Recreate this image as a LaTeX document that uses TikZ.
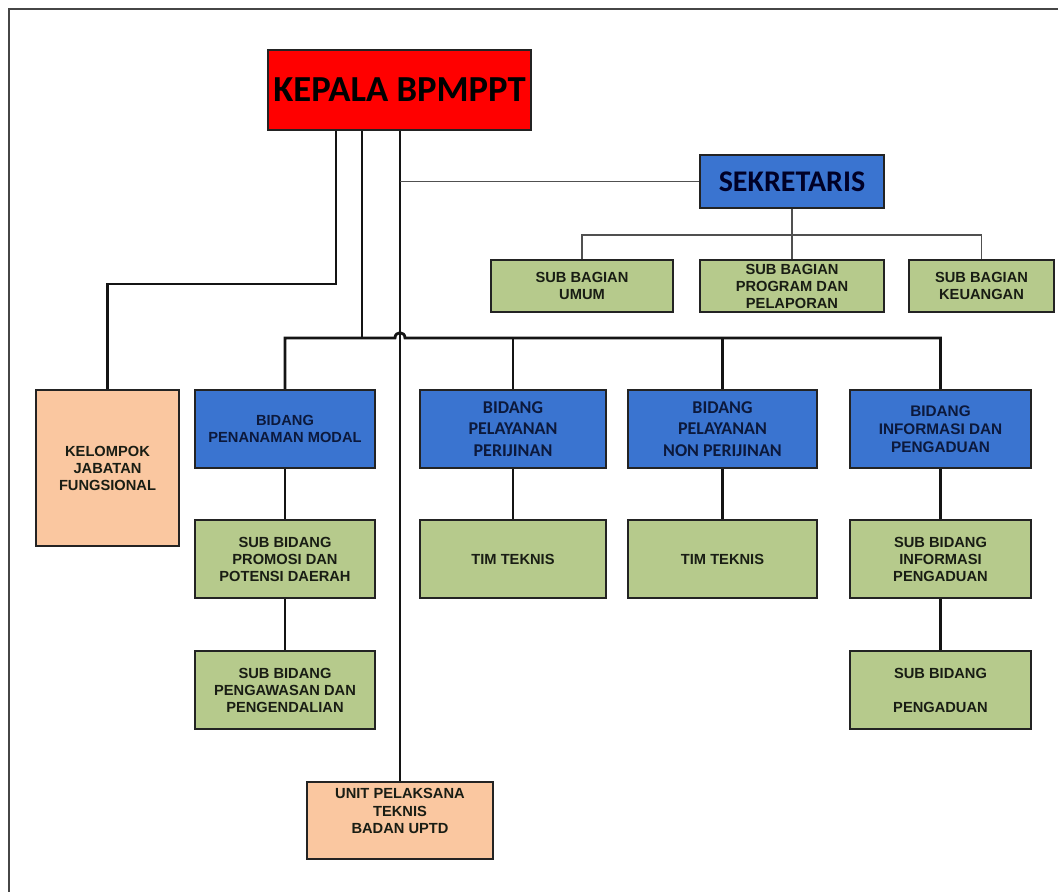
\documentclass[tikz,border=0pt]{standalone}
\usepackage{fontspec}
\setmainfont{Liberation Sans}
\newfontfamily\calfont{Carlito}
\definecolor{kred}{RGB}{255,0,0}
\definecolor{kblue}{RGB}{58,116,208}
\definecolor{kgreen}{RGB}{182,202,140}
\definecolor{kpeach}{RGB}{250,199,160}
\definecolor{bline}{RGB}{35,35,35}
\definecolor{cline}{RGB}{20,20,20}
\definecolor{sline}{RGB}{80,80,80}
\definecolor{ktext}{RGB}{25,29,20}
\definecolor{btext}{RGB}{12,25,60}
\definecolor{frame}{RGB}{70,70,70}
\begin{document}
\begin{tikzpicture}[x=0.75pt,y=-0.75pt,
  box/.style={draw=bline, line width=1.6pt, inner sep=0pt, align=center,
    font=\fontsize{11}{12.75}\selectfont\bfseries},
  gbox/.style={box, fill=kgreen, text=ktext},
  bbox/.style={box, fill=kblue, text=btext},
  pbox/.style={box, fill=kpeach, text=ktext},
  calb/.style={font=\calfont\fontsize{13.5}{16}\selectfont\bfseries},
  mainline/.style={line width=2.1pt, draw=cline},
  subline/.style={line width=1.6pt, draw=cline},
  sekline/.style={line width=1.1pt, draw=sline},
]
\useasboundingbox (0,0) rectangle (1058,892);
\draw[line width=2.2pt, draw=frame] (9,900) -- (9,9) -- (1070,9);

% top
\node[box, fill=kred, line width=2.2pt, minimum width=197.25pt, minimum height=60pt,
  font=\calfont\fontsize{27.5}{30}\selectfont\bfseries, text=black] (kepala) at (399.5,90) {KEPALA BPMPPT};
\node[bbox, minimum width=138pt, minimum height=39.75pt, text=black!85!blue,
  font=\calfont\fontsize{22.5}{26}\selectfont\bfseries] (sek) at (792,181.5) {SEKRETARIS};

% sub bagian
\node[gbox, minimum width=136.5pt, minimum height=39pt] (umum) at (582,286) {SUB BAGIAN\\UMUM};
\node[gbox, minimum width=138pt, minimum height=39pt] (prog) at (792,286) {SUB BAGIAN\\PROGRAM DAN\\PELAPORAN};
\node[gbox, minimum width=108.75pt, minimum height=39pt] (keu) at (981.5,286) {SUB BAGIAN\\KEUANGAN};

% kelompok
\node[pbox, minimum width=107.25pt, minimum height=117pt] (kel) at (107.5,468) {KELOMPOK\\JABATAN\\FUNGSIONAL};

% bidang
\node[bbox, minimum width=135pt, minimum height=58.5pt] (pm) at (285,429) {BIDANG\\PENANAMAN MODAL};
\node[bbox, calb, minimum width=139.5pt, minimum height=58.5pt] (pp) at (513,429) {BIDANG\\PELAYANAN\\PERIJINAN};
\node[bbox, calb, minimum width=141.75pt, minimum height=58.5pt] (np) at (722.5,429) {BIDANG\\PELAYANAN\\NON PERIJINAN};
\node[bbox, minimum width=135.75pt, minimum height=58.5pt,
  font=\fontsize{11.5}{13.5}\selectfont\bfseries] (ip) at (940.5,429) {BIDANG\\INFORMASI DAN\\PENGADUAN};

% row 2
\node[gbox, minimum width=135pt, minimum height=58.5pt] (promosi) at (285,559) {SUB BIDANG\\PROMOSI DAN\\POTENSI DAERAH};
\node[gbox, minimum width=139.5pt, minimum height=58.5pt] (tt1) at (513,559) {TIM TEKNIS};
\node[gbox, minimum width=141.75pt, minimum height=58.5pt] (tt2) at (722.5,559) {TIM TEKNIS};
\node[gbox, minimum width=135.75pt, minimum height=58.5pt] (sip) at (940.5,559) {SUB BIDANG\\INFORMASI\\PENGADUAN};

% row 3
\node[gbox, minimum width=135pt, minimum height=58.5pt] (pengawasan) at (285,690) {SUB BIDANG\\PENGAWASAN DAN\\PENGENDALIAN};
\node[gbox, minimum width=135.75pt, minimum height=58.5pt] (pengaduan) at (940.5,690) {SUB BIDANG\\[12.75pt]PENGADUAN};

% uptd
\node[pbox, minimum width=139.5pt, minimum height=57.75pt] (uptd) at (400,820.5) {};
\node[inner sep=0pt, align=center, text=ktext, font=\fontsize{11}{13}\selectfont\bfseries] (uptdtext) at (400,811) {UNIT PELAKSANA\\TEKNIS\\BADAN UPTD};

% helper coordinates
\coordinate (xa) at (336,0);
\coordinate (xb) at (362,0);
\coordinate (busy) at (0,338);
\coordinate (kely) at (0,284);
\coordinate (sekbus) at (0,235);
\coordinate (hopL) at (395,338);
\coordinate (hopR) at (405,338);

% connectors from kepala
\draw[mainline] (kepala.south -| xa) |- (kely -| kel.north) -- (kel.north);
\draw[mainline] (kepala.south -| xb) -- (xb |- busy);
\draw[mainline] (kepala.south -| uptd.north) -- (uptd.north);
\draw[sekline] (sek.west) -- (sek.west -| uptd.north);

% bus with hop
\draw[mainline] (pm.north) -- (pm.north |- busy) -- (hopL) .. controls +(0,-7) and +(0,-7) .. (hopR) -- (ip.north |- busy) -- (ip.north);
\draw[mainline] (pp.north) -- (pp.north |- busy);
\draw[mainline] (np.north) -- (np.north |- busy);

% sekretaris
\draw[sekline] (sek.south) -- (prog.north);
\draw[sekline] (umum.north) |- (sekbus -| sek.south) -| (keu.north);

% bidang to sub
\draw[subline] (pm.south) -- (promosi.north);
\draw[subline] (promosi.south) -- (pengawasan.north);
\draw[subline] (pp.south) -- (tt1.north);
\draw[subline] (np.south) -- (tt2.north);
\draw[subline] (ip.south) -- (sip.north);
\draw[subline] (sip.south) -- (pengaduan.north);
\end{tikzpicture}
\end{document}
